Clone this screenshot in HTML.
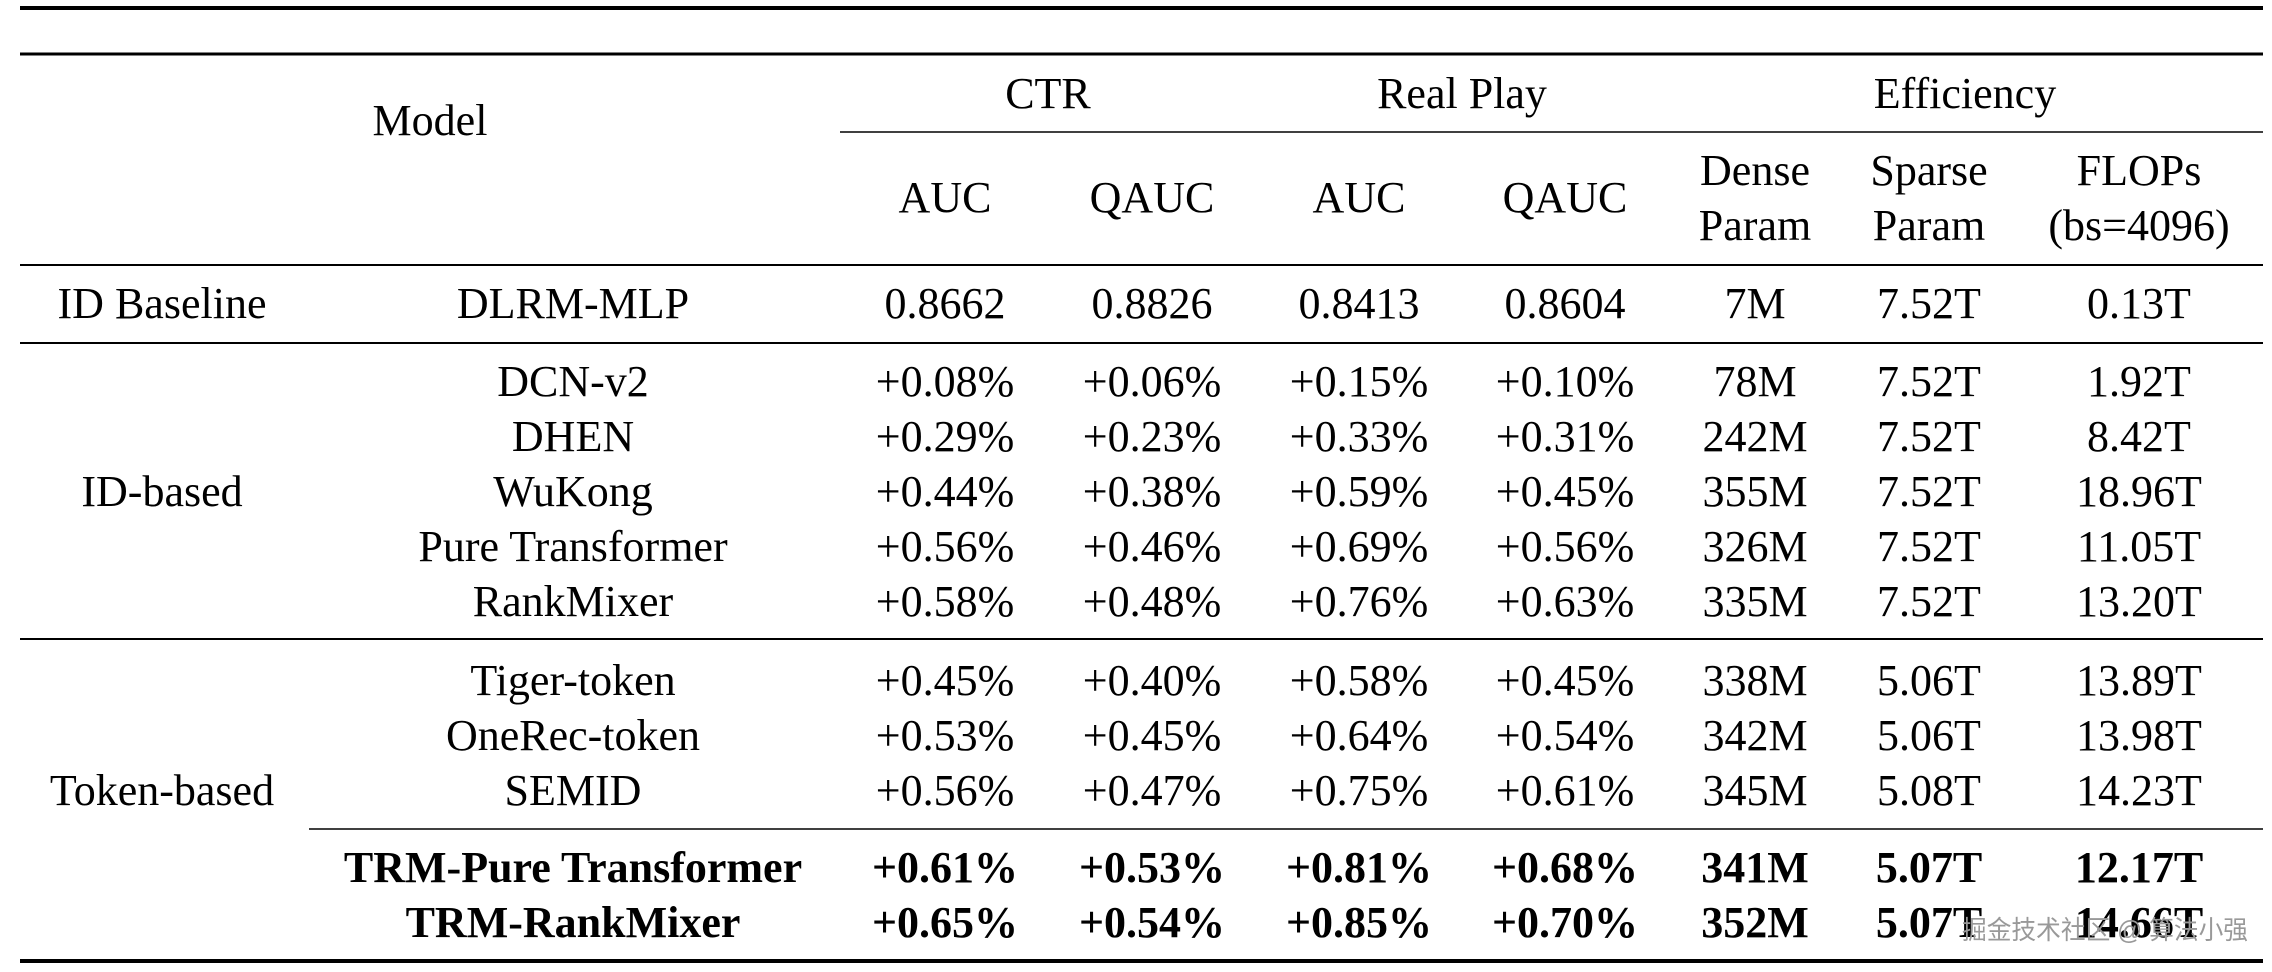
<!DOCTYPE html>
<html><head><meta charset="utf-8"><style>
html,body{margin:0;padding:0;background:#fff;width:2272px;height:972px;overflow:hidden}
svg text{font-family:"Liberation Serif",serif;font-size:44px;fill:#000}
.b{font-weight:bold}
.wm{font-family:"Liberation Sans","Noto Sans CJK SC",sans-serif;font-size:26px;fill:#999}
</style></head><body>
<svg width="2272" height="972" viewBox="0 0 2272 972" xmlns="http://www.w3.org/2000/svg">
<g stroke="#000">
<line x1="20" y1="8" x2="2263" y2="8" stroke-width="4"/>
<line x1="20" y1="54" x2="2263" y2="54" stroke-width="3"/>
<line x1="840" y1="132" x2="2263" y2="132" stroke-width="1.6"/>
<line x1="20" y1="265" x2="2263" y2="265" stroke-width="2"/>
<line x1="20" y1="343" x2="2263" y2="343" stroke-width="2"/>
<line x1="20" y1="639" x2="2263" y2="639" stroke-width="2"/>
<line x1="309" y1="829" x2="2263" y2="829" stroke-width="1.6"/>
<line x1="20" y1="961" x2="2263" y2="961" stroke-width="4"/>
</g>
<g text-anchor="middle">
<text x="430" y="135">Model</text>
<text x="1048" y="108">CTR</text>
<text x="1462" y="108">Real Play</text>
<text x="1965" y="108">Efficiency</text>
<text x="945" y="212">AUC</text><text x="1152" y="212">QAUC</text>
<text x="1359" y="212">AUC</text><text x="1565" y="212">QAUC</text>
<text x="1755" y="185">Dense</text><text x="1755" y="240">Param</text>
<text x="1929" y="185">Sparse</text><text x="1929" y="240">Param</text>
<text x="2139" y="185">FLOPs</text><text x="2139" y="240">(bs=4096)</text>

<text x="162" y="318">ID Baseline</text>
<text x="573" y="318">DLRM-MLP</text>
<text x="945" y="318">0.8662</text><text x="1152" y="318">0.8826</text><text x="1359" y="318">0.8413</text><text x="1565" y="318">0.8604</text><text x="1755" y="318">7M</text><text x="1929" y="318">7.52T</text><text x="2139" y="318">0.13T</text>

<text x="162" y="506">ID-based</text>
<text x="573" y="396">DCN-v2</text><text x="945" y="396">+0.08%</text><text x="1152" y="396">+0.06%</text><text x="1359" y="396">+0.15%</text><text x="1565" y="396">+0.10%</text><text x="1755" y="396">78M</text><text x="1929" y="396">7.52T</text><text x="2139" y="396">1.92T</text>
<text x="573" y="451">DHEN</text><text x="945" y="451">+0.29%</text><text x="1152" y="451">+0.23%</text><text x="1359" y="451">+0.33%</text><text x="1565" y="451">+0.31%</text><text x="1755" y="451">242M</text><text x="1929" y="451">7.52T</text><text x="2139" y="451">8.42T</text>
<text x="573" y="506">WuKong</text><text x="945" y="506">+0.44%</text><text x="1152" y="506">+0.38%</text><text x="1359" y="506">+0.59%</text><text x="1565" y="506">+0.45%</text><text x="1755" y="506">355M</text><text x="1929" y="506">7.52T</text><text x="2139" y="506">18.96T</text>
<text x="573" y="561">Pure Transformer</text><text x="945" y="561">+0.56%</text><text x="1152" y="561">+0.46%</text><text x="1359" y="561">+0.69%</text><text x="1565" y="561">+0.56%</text><text x="1755" y="561">326M</text><text x="1929" y="561">7.52T</text><text x="2139" y="561">11.05T</text>
<text x="573" y="616">RankMixer</text><text x="945" y="616">+0.58%</text><text x="1152" y="616">+0.48%</text><text x="1359" y="616">+0.76%</text><text x="1565" y="616">+0.63%</text><text x="1755" y="616">335M</text><text x="1929" y="616">7.52T</text><text x="2139" y="616">13.20T</text>

<text x="162" y="805">Token-based</text>
<text x="573" y="695">Tiger-token</text><text x="945" y="695">+0.45%</text><text x="1152" y="695">+0.40%</text><text x="1359" y="695">+0.58%</text><text x="1565" y="695">+0.45%</text><text x="1755" y="695">338M</text><text x="1929" y="695">5.06T</text><text x="2139" y="695">13.89T</text>
<text x="573" y="750">OneRec-token</text><text x="945" y="750">+0.53%</text><text x="1152" y="750">+0.45%</text><text x="1359" y="750">+0.64%</text><text x="1565" y="750">+0.54%</text><text x="1755" y="750">342M</text><text x="1929" y="750">5.06T</text><text x="2139" y="750">13.98T</text>
<text x="573" y="805">SEMID</text><text x="945" y="805">+0.56%</text><text x="1152" y="805">+0.47%</text><text x="1359" y="805">+0.75%</text><text x="1565" y="805">+0.61%</text><text x="1755" y="805">345M</text><text x="1929" y="805">5.08T</text><text x="2139" y="805">14.23T</text>
<text class="b" x="573" y="882">TRM-Pure Transformer</text><text class="b" x="945" y="882">+0.61%</text><text class="b" x="1152" y="882">+0.53%</text><text class="b" x="1359" y="882">+0.81%</text><text class="b" x="1565" y="882">+0.68%</text><text class="b" x="1755" y="882">341M</text><text class="b" x="1929" y="882">5.07T</text><text class="b" x="2139" y="882">12.17T</text>
<text class="b" x="573" y="937">TRM-RankMixer</text><text class="b" x="945" y="937">+0.65%</text><text class="b" x="1152" y="937">+0.54%</text><text class="b" x="1359" y="937">+0.85%</text><text class="b" x="1565" y="937">+0.70%</text><text class="b" x="1755" y="937">352M</text><text class="b" x="1929" y="937">5.07T</text><text class="b" x="2139" y="937">14.66T</text>
</g>
<text class="wm" x="1962" y="939" textLength="286" lengthAdjust="spacingAndGlyphs">掘金技术社区 @ 算法小强</text>
</svg>
</body></html>
